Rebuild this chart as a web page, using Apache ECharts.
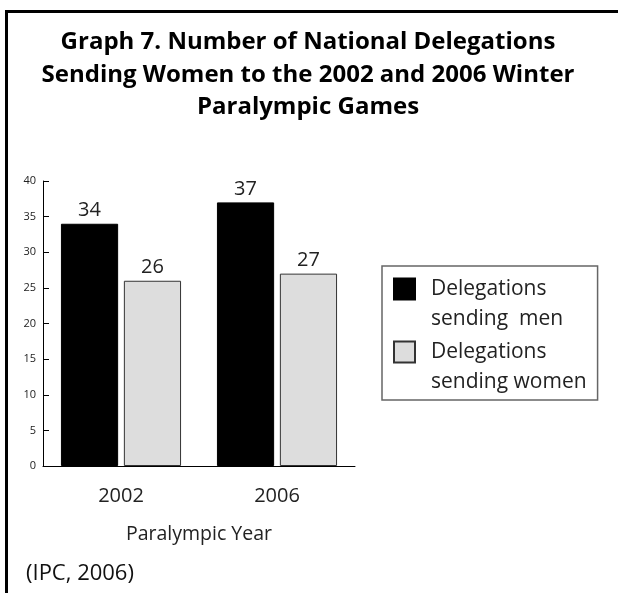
<!DOCTYPE html>
<html>
<head>
<meta charset="utf-8">
<script src="https://cdn.jsdelivr.net/npm/echarts@6/dist/echarts.min.js"></script>
<style>
  html, body { margin: 0; padding: 0; background: #fff; }
  #chart { width: 618px; height: 593px; }
</style>
</head>
<body>
<div id="chart"></div>
<script>
// Games years on the category axis
const years = ['2002', '2006'];
// Delegations per year
const menValues = [34, 37];
const womenValues = [26, 27];
// Legend labels, split onto two lines each
const seriesNames = ['Delegations sending men', 'Delegations sending women'];
const legendLines = {
  'Delegations sending men': ['Delegations', 'sending  men'],
  'Delegations sending women': ['Delegations', 'sending women']
};
// Value axis ticks
const yMin = 0, yMax = 40, yStep = 5;

const FONT = '"Open Sans", "Noto Sans", sans-serif';
const chart = echarts.init(document.getElementById('chart'), null, { renderer: 'canvas' });

chart.setOption({
  animation: false,
  backgroundColor: '#ffffff',
  title: [
    {
      text: 'Graph 7. Number of National Delegations\nSending Women to the 2002 and 2006 Winter\nParalympic Games',
      left: 303,
      top: 21,
      textAlign: 'center',
      textStyle: {
        fontFamily: FONT, fontWeight: 'bold', fontSize: 24,
        lineHeight: 32.5, color: '#000'
      }
    },
    {
      text: '(IPC, 2006)',
      left: 21,
      top: 558,
      textStyle: { fontFamily: FONT, fontWeight: 'normal', fontSize: 22, color: '#111' }
    }
  ],
  graphic: [
    {
      type: 'rect',
      shape: { x: 6.5, y: 11.5, width: 800, height: 800 },
      style: { fill: 'none', stroke: '#000', lineWidth: 3 },
      silent: true
    }
  ],
  legend: {
    orient: 'vertical',
    left: 382,
    top: 266,
    padding: [11.5, 11, 7.5, 11],
    itemWidth: 21,
    itemHeight: 21,
    itemGap: 11,
    icon: 'rect',
    borderColor: '#666',
    borderWidth: 1.5,
    data: seriesNames,
    formatter: name => legendLines[name].map(s => '{t|' + s + '}').join('\n'),
    textStyle: {
      fontFamily: FONT, fontSize: 21, color: '#222',
      height: 30, padding: [0, 0, 0, 11],
      rich: { t: { fontFamily: FONT, fontSize: 21, lineHeight: 30, color: '#222' } }
    }
  },
  grid: { left: 43, right: 263, top: 181, bottom: 127 },
  xAxis: {
    type: 'category',
    data: years,
    name: 'Paralympic Year',
    nameLocation: 'middle',
    nameGap: 58,
    nameTextStyle: { fontFamily: FONT, fontSize: 19.5, color: '#222' },
    axisLine: { lineStyle: { color: '#000', width: 1 } },
    axisTick: { inside: true, length: 6, lineStyle: { color: '#000' } },
    axisLabel: { fontFamily: FONT, fontSize: 20, color: '#222', margin: 20 },
    splitLine: { show: false }
  },
  yAxis: {
    type: 'value',
    min: yMin, max: yMax, interval: yStep,
    axisLine: { show: true, lineStyle: { color: '#000', width: 1 } },
    axisTick: { show: true, inside: true, length: 6, lineStyle: { color: '#000' } },
    axisLabel: { fontFamily: FONT, fontSize: 11, color: '#222', margin: 7 },
    splitLine: { show: false }
  },
  series: [
    {
      name: seriesNames[0],
      type: 'bar',
      data: menValues,
      barCategoryGap: '23%',
      barGap: '10%',
      itemStyle: { color: '#000', borderColor: '#000', borderWidth: 1 },
      label: {
        show: true, position: 'top', distance: 3,
        fontFamily: FONT, fontSize: 20, color: '#222'
      }
    },
    {
      name: seriesNames[1],
      type: 'bar',
      data: womenValues,
      barCategoryGap: '23%',
      barGap: '10%',
      itemStyle: { color: '#dddddd', borderColor: '#333', borderWidth: 1 },
      label: {
        show: true, position: 'top', distance: 3,
        fontFamily: FONT, fontSize: 20, color: '#222'
      }
    }
  ]
});
</script>
</body>
</html>
